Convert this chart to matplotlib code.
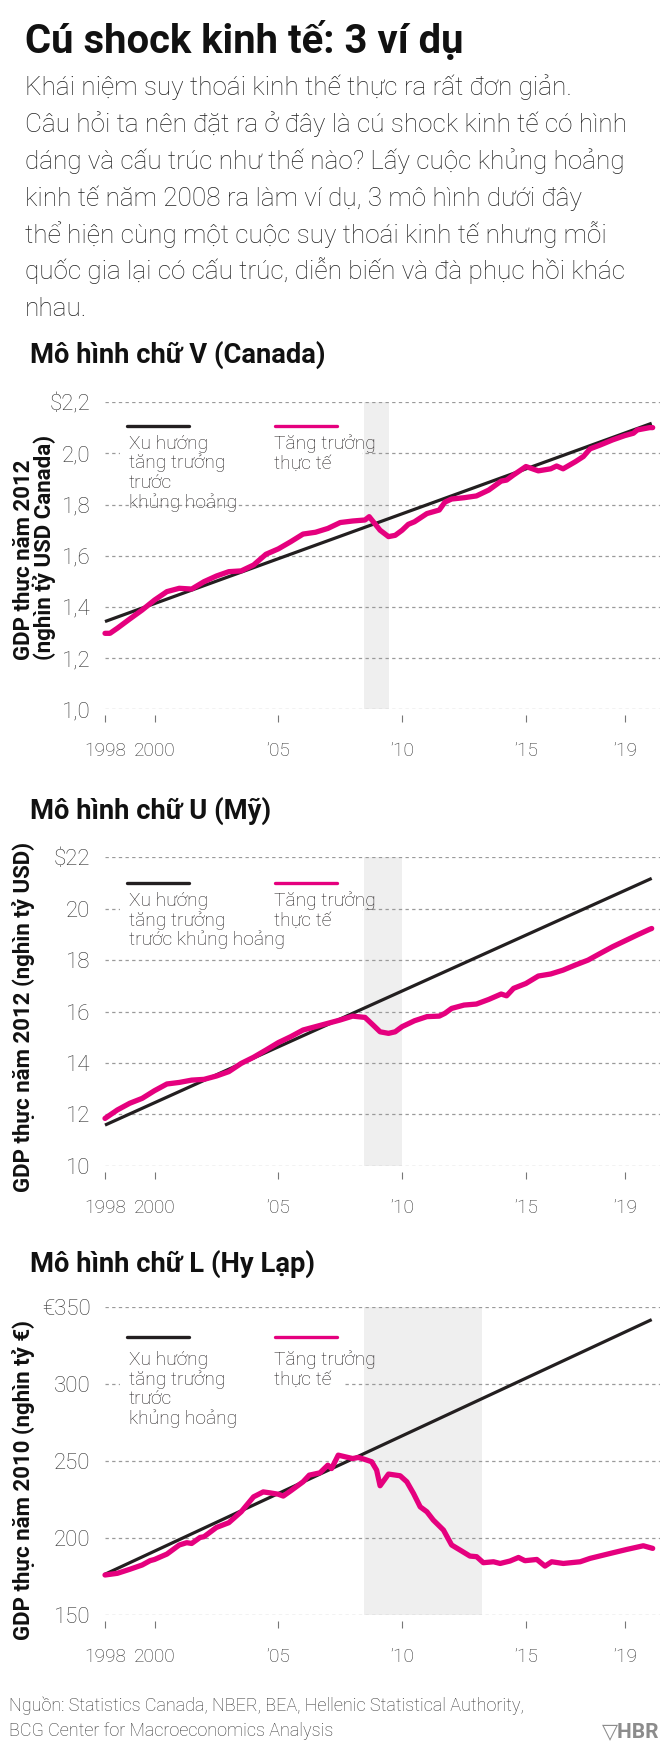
import matplotlib
matplotlib.use("Agg")
import matplotlib.pyplot as plt
from matplotlib.lines import Line2D
from matplotlib.patches import Rectangle

# Ba mô hình suy thoái: V (Canada), U (Mỹ), L (Hy Lạp)

title = "Cú shock kinh tế: 3 ví dụ"
intro = [
    "Khái niệm suy thoái kinh thế thực ra rất đơn giản.",
    "Câu hỏi ta nên đặt ra ở đây là cú shock kinh tế có hình",
    "dáng và cấu trúc như thế nào? Lấy cuộc khủng hoảng",
    "kinh tế năm 2008 ra làm ví dụ, 3 mô hình dưới đây",
    "thể hiện cùng một cuộc suy thoái kinh tế nhưng mỗi",
    "quốc gia lại có cấu trúc, diễn biến và đà phục hồi khác",
    "nhau.",
]
source = [
    "Nguồn: Statistics Canada, NBER, BEA, Hellenic Statistical Authority,",
    "BCG Center for Macroeconomics Analysis",
]

x_ticks = [1998, 2000, 2005, 2010, 2015, 2019]
x_labels = ["1998", "2000", "\u201905", "\u201910", "\u201915", "\u201919"]
trend_years = [1998.0, 2020.08]

# Canada
ca_years = [1998.0, 1998.2, 1998.5, 1999.0, 1999.5, 2000.0, 2000.5, 2001.0, 2001.5, 2002.0,
            2002.5, 2003.0, 2003.5, 2004.0, 2004.5, 2005.0, 2005.5, 2006.0, 2006.5, 2007.0,
            2007.5, 2008.0, 2008.5, 2008.67, 2009.11, 2009.45, 2009.72, 2010.0, 2010.25, 2010.5,
            2011.0, 2011.5, 2011.73, 2012.0, 2012.5, 2013.0, 2013.5, 2014.0, 2014.22, 2014.5,
            2015.0, 2015.5, 2016.0, 2016.24, 2016.5, 2017.0, 2017.32, 2017.59, 2018.0, 2018.5,
            2019.0, 2019.34, 2019.5, 2020.0, 2020.12]
ca_gdp = [1.297, 1.297, 1.317, 1.353, 1.388, 1.427, 1.46, 1.473, 1.47, 1.499,
          1.521, 1.538, 1.541, 1.564, 1.606, 1.627, 1.655, 1.685, 1.692, 1.707,
          1.73, 1.736, 1.74, 1.753, 1.70, 1.675, 1.68, 1.70, 1.723, 1.733,
          1.765, 1.779, 1.81, 1.822, 1.827, 1.834, 1.857, 1.892, 1.896, 1.916,
          1.949, 1.932, 1.94, 1.951, 1.94, 1.968, 1.988, 2.018, 2.033, 2.053,
          2.07, 2.079, 2.092, 2.101, 2.101]
ca_trend = [1.343, 2.118]
ca_recession = (2008.47, 2009.45)
ca_yticks = [1.0, 1.2, 1.4, 1.6, 1.8, 2.0, 2.2]
ca_ylabels = ["1,0", "1,2", "1,4", "1,6", "1,8", "2,0", "$2,2"]

# Mỹ
us_years = [1998.0, 1998.5, 1999.0, 1999.5, 2000.0, 2000.5, 2001.0, 2001.5, 2002.0, 2002.5,
            2003.0, 2003.5, 2004.0, 2004.5, 2005.0, 2005.5, 2006.0, 2006.5, 2007.0, 2007.5,
            2008.0, 2008.5, 2008.83, 2009.11, 2009.45, 2009.72, 2010.0, 2010.5, 2011.0, 2011.5,
            2011.73, 2012.0, 2012.5, 2013.0, 2013.5, 2014.0, 2014.22, 2014.5, 2015.0, 2015.5,
            2016.0, 2016.5, 2017.0, 2017.51, 2018.0, 2018.5, 2019.0, 2019.5, 2020.0, 2020.08]
us_gdp = [11.84, 12.17, 12.43, 12.62, 12.92, 13.18, 13.24, 13.33, 13.36, 13.49,
          13.66, 13.98, 14.22, 14.5, 14.79, 15.02, 15.28, 15.41, 15.54, 15.67,
          15.82, 15.77, 15.47, 15.21, 15.15, 15.21, 15.41, 15.64, 15.8, 15.82,
          15.93, 16.12, 16.25, 16.29, 16.47, 16.68, 16.61, 16.9, 17.09, 17.38,
          17.46, 17.61, 17.81, 18.0, 18.26, 18.52, 18.75, 18.98, 19.2, 19.23]
us_trend = [11.58, 21.18]
us_recession = (2008.47, 2010.0)
us_yticks = [10, 12, 14, 16, 18, 20, 22]
us_ylabels = ["10", "12", "14", "16", "18", "20", "$22"]

# Hy Lạp
gr_years = [1998.0, 1998.5, 1999.0, 1999.5, 1999.82, 2000.0, 2000.5, 2001.0, 2001.3, 2001.5,
            2001.84, 2002.0, 2002.5, 2003.0, 2003.5, 2004.0, 2004.39, 2004.66, 2005.0, 2005.2,
            2005.5, 2006.0, 2006.25, 2006.68, 2007.0, 2007.15, 2007.42, 2008.0, 2008.23, 2008.5,
            2008.77, 2008.97, 2009.11, 2009.45, 2009.92, 2010.19, 2010.46, 2010.73, 2011.0, 2011.26,
            2011.67, 2012.0, 2012.34, 2012.74, 2013.01, 2013.28, 2013.69, 2013.96, 2014.36, 2014.7,
            2014.96, 2015.44, 2015.77, 2016.04, 2016.51, 2017.19, 2017.59, 2018.4, 2019.07, 2019.74,
            2020.12]
gr_gdp = [176.0, 177.1, 179.7, 182.5, 185.3, 186.1, 189.6, 195.5, 197.0, 196.5,
          200.4, 200.9, 206.9, 210.0, 217.1, 226.8, 230.0, 229.4, 228.5, 227.3,
          230.7, 236.6, 240.9, 242.4, 247.4, 245.2, 253.9, 251.7, 252.4, 251.1,
          249.6, 244.2, 234.0, 241.6, 240.5, 236.6, 229.0, 220.3, 217.1, 211.7,
          205.2, 195.5, 192.2, 188.3, 187.9, 184.0, 184.6, 183.5, 185.1, 187.4,
          185.3, 186.1, 181.8, 184.6, 183.5, 184.6, 186.8, 190.0, 192.6, 195.0,
          193.3]
gr_trend = [176.5, 342.0]
gr_recession = (2008.47, 2013.22)
gr_yticks = [150, 200, 250, 300, 350]
gr_ylabels = ["150", "200", "250", "300", "\u20ac350"]

legend_trend = ["Xu hướng", "tăng trưởng", "trước", "khủng hoảng"]
legend_trend_us = ["Xu hướng", "tăng trưởng", "trước khủng hoảng"]
legend_actual = ["Tăng trưởng", "thực tế"]

PINK = "#e5007e"
DARK = "#231f20"
GRID = "#9a9a9a"

plt.rcParams["font.family"] = ["Roboto", "DejaVu Sans"]
plt.rcParams["lines.scale_dashes"] = False

W, H = 660, 1751
fig = plt.figure(figsize=(W / 100, H / 100), dpi=100)


def fx(px):
    return px / W


def fy(py):
    return 1 - py / H


def put(x, y, s, **kw):
    return fig.text(fx(x), fy(y), s, va="baseline", **kw)


put(25, 53, title, fontsize=28.8, fontweight="bold", color="#111111")
for i, line in enumerate(intro):
    put(25, 95 + i * 36.9, line, fontsize=18.8, fontweight="light", color="#222222")

charts = [
    dict(name="Mô hình chữ V (Canada)", title_y=362.7, top=402.3, bottom=709.3,
         years=ca_years, gdp=ca_gdp, trend=ca_trend, rec=ca_recession,
         yticks=ca_yticks, ylabels=ca_ylabels, lo=1.0, hi=2.2,
         ylabel=["GDP thực năm 2012", "(nghìn tỷ USD Canada)"], ylabel_x=[24, 45], ylabel_y=660,
         leg_y=425.7, leg_text_y=449, leg_trend=legend_trend, box_right=362),
    dict(name="Mô hình chữ U (Mỹ)", title_y=819.3, top=857.3, bottom=1165.7,
         years=us_years, gdp=us_gdp, trend=us_trend, rec=us_recession,
         yticks=us_yticks, ylabels=us_ylabels, lo=10, hi=22,
         ylabel=["GDP thực năm 2012 (nghìn tỷ USD)"], ylabel_x=[24], ylabel_y=1192,
         leg_y=883.3, leg_text_y=906, leg_trend=legend_trend_us, box_right=362),
    dict(name="Mô hình chữ L (Hy Lạp)", title_y=1271.7, top=1307.3, bottom=1615,
         years=gr_years, gdp=gr_gdp, trend=gr_trend, rec=gr_recession,
         yticks=gr_yticks, ylabels=gr_ylabels, lo=150, hi=350,
         ylabel=["GDP thực năm 2010 (nghìn tỷ \u20ac)"], ylabel_x=[24], ylabel_y=1640,
         leg_y=1336.7, leg_text_y=1365, leg_trend=legend_trend, box_right=345),
]

for c in charts:
    put(30, c["title_y"], c["name"], fontsize=19.7, fontweight="bold", color="#111111")

    ax = fig.add_axes([fx(105), fy(c["bottom"]), fx(660) - fx(105), (c["bottom"] - c["top"]) / H])
    ax.set_xlim(1998, 1998 + 555 / 24.76)
    ax.set_ylim(c["lo"], c["hi"])
    ax.axvspan(*c["rec"], color="#efefef", lw=0, zorder=0)
    ax.set_axisbelow(True)
    ax.grid(axis="y", color=GRID, lw=0.9, ls=(0, (2.4, 2.4)))
    ax.grid(axis="x", visible=False)
    for s in ax.spines.values():
        s.set_visible(False)
    ax.spines["bottom"].set_position(("outward", 4.3))

    ax.set_xticks(x_ticks, x_labels, fontweight="light")
    ax.set_yticks(c["yticks"], c["ylabels"], fontweight="light")
    ax.tick_params(axis="x", length=5, width=0.8, color="#777777", pad=14.5,
                   labelsize=13.8, labelcolor="#333333")
    ax.tick_params(axis="y", length=0, pad=10.4, labelsize=16, labelcolor="#333333")

    ax.plot(trend_years, c["trend"], color=DARK, lw=2.3, solid_capstyle="butt",
            zorder=3, clip_on=False)
    ax.plot(c["years"], c["gdp"], color=PINK, lw=3.8, solid_capstyle="round",
            solid_joinstyle="round", zorder=4, clip_on=False)

    for lx, lab in zip(c["ylabel_x"], c["ylabel"]):
        fig.text(fx(lx), fy(c["ylabel_y"]), lab, rotation=90, rotation_mode="anchor",
                 ha="left", va="center", fontsize=16, fontweight="bold", color="#111111")

    # legend block: white box hides the gridline behind it
    ly = c["leg_y"]
    fig.add_artist(Rectangle((fx(120), fy(ly + 70)), fx(c["box_right"]) - fx(120), 70 / H,
                             transform=fig.transFigure, facecolor="white",
                             edgecolor="none", zorder=1))
    fig.add_artist(Line2D([fx(127), fx(189)], [fy(ly), fy(ly)], transform=fig.transFigure,
                          color=DARK, lw=2.4, solid_capstyle="round", zorder=2))
    fig.add_artist(Line2D([fx(275), fx(337)], [fy(ly), fy(ly)], transform=fig.transFigure,
                          color=PINK, lw=2.4, solid_capstyle="round", zorder=2))
    for i, line in enumerate(c["leg_trend"]):
        t = put(129, c["leg_text_y"] + i * 19.5, line, fontsize=13.8, fontweight="light",
                color=DARK)
        t.set_zorder(2)
    for i, line in enumerate(legend_actual):
        t = put(274, c["leg_text_y"] + i * 19.5, line, fontsize=13.8, fontweight="light",
                color=DARK)
        t.set_zorder(2)

for i, line in enumerate(source):
    put(9, 1711 + i * 25, line, fontsize=13, fontweight="light", color="#333333")
fig.text(fx(659), fy(1737), "\u25bdHBR", ha="right", va="baseline", fontsize=15,
         fontweight="bold", color="#8c8c8c", family=["Roboto", "DejaVu Sans"])

fig.savefig("out.png", dpi=100)
